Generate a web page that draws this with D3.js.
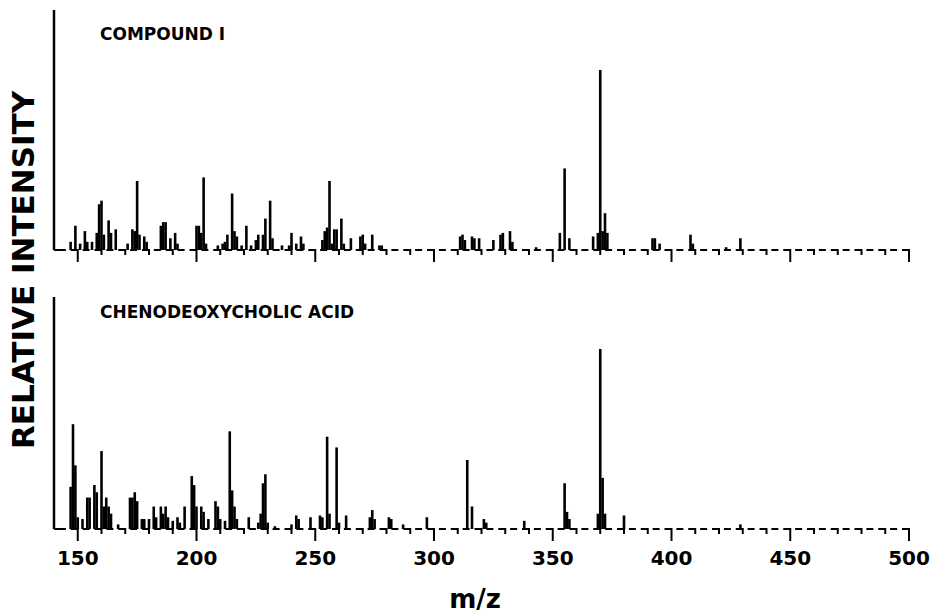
<!DOCTYPE html>
<html>
<head>
<meta charset="utf-8">
<script src="https://cdn.jsdelivr.net/npm/d3@7"></script>
<style>
    body { margin: 0; background: #fff; }
    svg text { font-family: "DejaVu Sans", sans-serif; fill: #000; }
</style>
</head>
<body>
<svg width="936" height="613"></svg>
<script>
// Compound I: m/z and relative intensity
var topMz = [147, 149, 151, 153, 154, 156, 158, 159, 160, 161, 163, 164, 166, 171, 173, 174, 175, 176, 178, 179,
    185, 186, 187, 189, 191, 192, 200, 201, 202, 203, 204, 209, 211, 212, 213, 215, 216, 217, 219, 221,
    223, 225, 226, 228, 229, 231, 232, 236, 239, 240, 242, 244, 245, 253, 254, 255, 256, 257, 258, 259,
    261, 262, 265, 269, 270, 271, 274, 277, 278, 311, 312, 313, 316, 317, 319, 325, 328, 329, 332, 333,
    343, 353, 355, 357, 367, 369, 370, 371, 372, 373, 392, 393, 395, 408, 409, 423, 429];
var topInt = [4, 13, 3, 10, 4, 4, 9, 25, 27, 8, 16, 9, 11, 3, 11, 10, 38, 8, 7, 4,
    13, 15, 15, 6, 9, 3, 13, 13, 9, 40, 3, 2, 3, 4, 8, 31, 10, 7, 2, 13,
    2, 5, 8, 8, 17, 27, 6, 2, 2, 9, 3, 7, 3, 5, 10, 12, 38, 3, 11, 11,
    17, 3, 6, 7, 8, 3, 8, 2, 2, 7, 8, 5, 7, 6, 6, 5, 8, 9, 10, 4,
    1, 9, 45, 6, 7, 9, 100, 10, 20, 9, 6, 6, 3, 8, 3, 1, 6];

// Chenodeoxycholic acid
var botMz = [147, 148, 149, 150, 152, 154, 155, 157, 158, 160, 161, 162, 163, 164, 167, 172, 173, 174, 175, 177,
    178, 180, 182, 183, 185, 186, 187, 188, 190, 192, 193, 195, 198, 199, 200, 202, 203, 205, 208, 209,
    210, 212, 214, 215, 216, 217, 222, 226, 227, 228, 229, 230, 233, 240, 242, 243, 248, 252, 253, 255,
    256, 259, 260, 263, 273, 274, 275, 281, 282, 287, 297, 314, 316, 321, 322, 338, 355, 356, 357, 369,
    370, 371, 372, 380, 429];
var botInt = [23, 58, 35, 6, 5, 17, 17, 24, 20, 43, 12, 17, 12, 8, 2, 17, 17, 20, 15, 5,
    5, 5, 12, 6, 12, 8, 12, 6, 4, 6, 3, 12, 29, 24, 12, 12, 9, 5, 15, 12,
    5, 4, 54, 21, 12, 5, 6, 3, 8, 25, 30, 3, 1, 2, 7, 5, 6, 7, 6, 51,
    8, 45, 3, 7, 6, 10, 5, 6, 5, 2, 6, 38, 12, 5, 3, 4, 25, 9, 5, 8,
    100, 28, 8, 7, 2];

var panelNames = ["COMPOUND I", "CHENODEOXYCHOLIC ACID"];
var tickValues = [150, 200, 250, 300, 350, 400, 450, 500];

var svg = d3.select("svg");

var x = d3.scaleLinear()
    .domain([140, 500])
    .range([54, 909]);

var panels = [
    { name: panelNames[0], mz: topMz, inten: topInt, top: 10, base: 249, label: 40 },
    { name: panelNames[1], mz: botMz, inten: botInt, top: 297, base: 528, label: 318 }
];

panels.forEach(function(p) {
    var y = d3.scaleLinear()
        .domain([0, 100])
        .range([p.base, p.base - 179]);

    var g = svg.append("g");

    // left vertical axis line
    g.append("line")
        .attr("x1", x(140)).attr("x2", x(140))
        .attr("y1", p.top).attr("y2", p.base + 1)
        .attr("stroke", "#000")
        .attr("stroke-width", 2.5);

    // dashed baseline, dashes end on each 10-unit tick
    var period = x(145) - x(140);
    g.append("line")
        .attr("x1", x(140)).attr("x2", x(500))
        .attr("y1", p.base + 1).attr("y2", p.base + 1)
        .attr("stroke", "#000")
        .attr("stroke-width", 2)
        .attr("stroke-dasharray", "7," + (period - 7))
        .attr("stroke-dashoffset", 7);

    g.append("line")
        .attr("x1", x(140)).attr("x2", x(140) + 6)
        .attr("y1", p.base + 1).attr("y2", p.base + 1)
        .attr("stroke", "#000")
        .attr("stroke-width", 2);

    g.selectAll(".tick")
        .data(d3.range(150, 501, 10))
        .enter().append("line")
        .attr("class", "tick")
        .attr("x1", function(d) { return x(d); })
        .attr("x2", function(d) { return x(d); })
        .attr("y1", p.base)
        .attr("y2", function(d) { return p.base + (d % 50 === 0 ? 13 : 6); })
        .attr("stroke", "#000")
        .attr("stroke-width", 2);

    g.selectAll(".peak")
        .data(p.mz)
        .enter().append("line")
        .attr("class", "peak")
        .attr("x1", function(d) { return x(d); })
        .attr("x2", function(d) { return x(d); })
        .attr("y1", p.base + 1)
        .attr("y2", function(d, i) { return y(p.inten[i]); })
        .attr("stroke", "#000")
        .attr("stroke-width", 2.6);

    g.append("text")
        .attr("x", 100)
        .attr("y", p.label)
        .style("font-size", "17px")
        .style("font-weight", "bold")
        .text(p.name);
});

// x tick labels
svg.selectAll(".xlab")
    .data(tickValues)
    .enter().append("text")
    .attr("class", "xlab")
    .attr("x", function(d) { return x(d); })
    .attr("y", 565)
    .attr("text-anchor", "middle")
    .style("font-size", "20px")
    .style("font-weight", "bold")
    .text(function(d) { return d; });

svg.append("text")
    .attr("x", 475)
    .attr("y", 608)
    .attr("text-anchor", "middle")
    .style("font-size", "26px")
    .style("font-weight", "bold")
    .text("m/z");

svg.append("text")
    .attr("transform", "translate(34,270) rotate(-90)")
    .attr("text-anchor", "middle")
    .style("font-size", "31px")
    .style("font-weight", "bold")
    .text("RELATIVE INTENSITY");
</script>
</body>
</html>
